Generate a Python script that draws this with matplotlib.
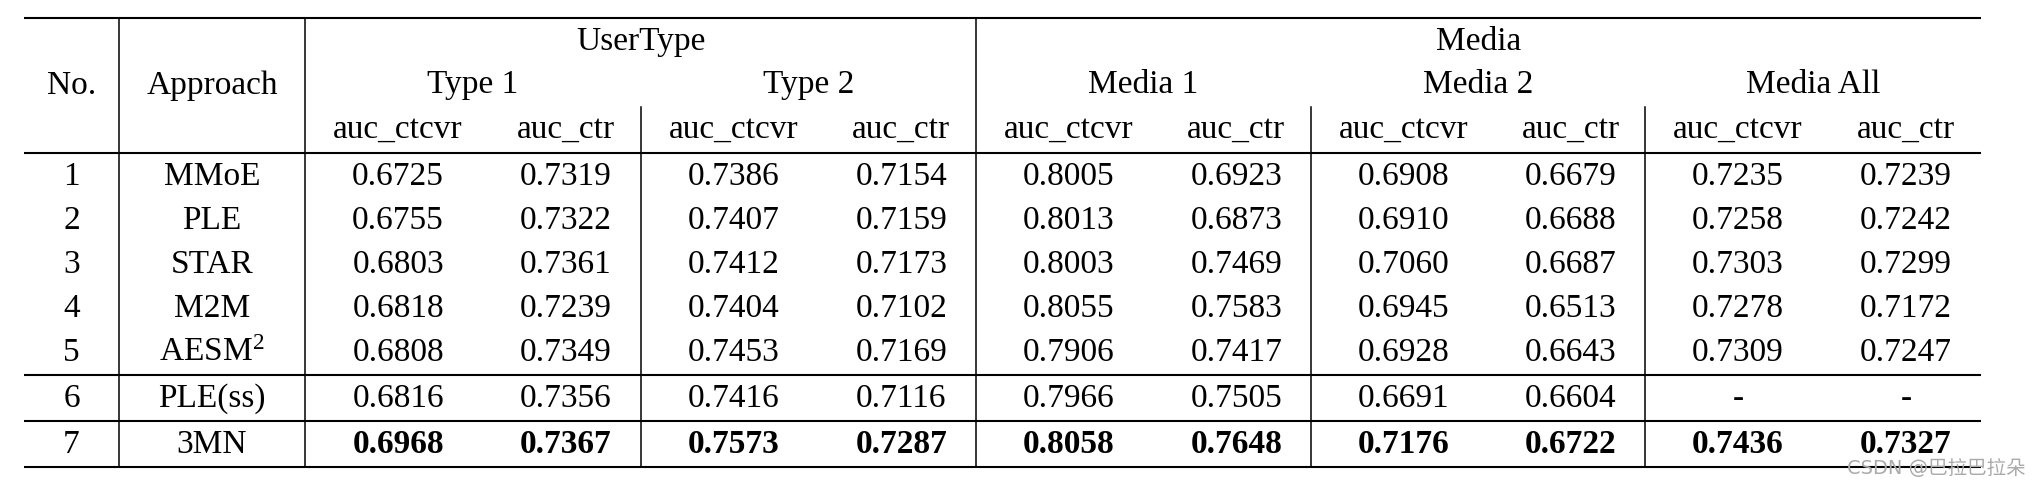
import numpy as np
import matplotlib
matplotlib.use('Agg')
import matplotlib.pyplot as plt

plt.rcParams['font.family'] = 'Liberation Serif'
plt.rcParams['mathtext.fontset'] = 'custom'
plt.rcParams['mathtext.rm'] = 'Liberation Serif'
plt.rcParams['mathtext.it'] = 'Liberation Serif:italic'
plt.rcParams['mathtext.bf'] = 'Liberation Serif:bold'

# table data
row_no = ['1', '2', '3', '4', '5', '6', '7']
approaches = ['MMoE', 'PLE', 'STAR', 'M2M', 'AESM$^2$', 'PLE(ss)', '3MN']
top_groups = ['UserType', 'Media']
groups = ['Type 1', 'Type 2', 'Media 1', 'Media 2', 'Media All']
metrics = ['auc_ctcvr', 'auc_ctr']

type1_ctcvr = [0.6725, 0.6755, 0.6803, 0.6818, 0.6808, 0.6816, 0.6968]
type1_ctr = [0.7319, 0.7322, 0.7361, 0.7239, 0.7349, 0.7356, 0.7367]
type2_ctcvr = [0.7386, 0.7407, 0.7412, 0.7404, 0.7453, 0.7416, 0.7573]
type2_ctr = [0.7154, 0.7159, 0.7173, 0.7102, 0.7169, 0.7116, 0.7287]
media1_ctcvr = [0.8005, 0.8013, 0.8003, 0.8055, 0.7906, 0.7966, 0.8058]
media1_ctr = [0.6923, 0.6873, 0.7469, 0.7583, 0.7417, 0.7505, 0.7648]
media2_ctcvr = [0.6908, 0.6910, 0.7060, 0.6945, 0.6928, 0.6691, 0.7176]
media2_ctr = [0.6679, 0.6688, 0.6687, 0.6513, 0.6643, 0.6604, 0.6722]
mediaall_ctcvr = [0.7235, 0.7258, 0.7303, 0.7278, 0.7309, np.nan, 0.7436]
mediaall_ctr = [0.7239, 0.7242, 0.7299, 0.7172, 0.7247, np.nan, 0.7327]

columns = [type1_ctcvr, type1_ctr, type2_ctcvr, type2_ctr,
           media1_ctcvr, media1_ctr, media2_ctcvr, media2_ctr,
           mediaall_ctcvr, mediaall_ctr]

W, H = 2034, 486
fig = plt.figure(figsize=(W / 100, H / 100), dpi=100)
ax = fig.add_axes([0, 0, 1, 1])
ax.set_xlim(0, W)
ax.set_ylim(H, 0)
ax.axis('off')

fs = 24
x_left, x_no, x_app = 24, 119, 305
g_edges = [305, 641, 976, 1311, 1645, 1981]
x_right = g_edges[-1]
y_top, y_head, y_sub = 18, 153, 107
row_base = [185, 229, 273, 317, 361, 407, 453]
sep_lines = [375, 421]
y_bottom = 467

# horizontal rules
for y in [y_top, y_head] + sep_lines + [y_bottom]:
    ax.plot([x_left, x_right], [y, y], color='black', lw=1.5, solid_capstyle='butt')

# vertical rules
for x in [x_no, x_app, g_edges[2]]:
    ax.plot([x, x], [y_top, y_bottom], color='black', lw=1.1)
for x in [g_edges[1], g_edges[3], g_edges[4]]:
    ax.plot([x, x], [y_sub, y_bottom], color='black', lw=1.1)

# header
ax.text((x_left + x_no) / 2, 94, 'No.', ha='center', va='baseline', fontsize=fs)
ax.text((x_no + x_app) / 2, 94, 'Approach', ha='center', va='baseline', fontsize=fs)
ax.text((g_edges[0] + g_edges[2]) / 2, 50, top_groups[0], ha='center', va='baseline', fontsize=fs)
ax.text((g_edges[2] + g_edges[5]) / 2, 50, top_groups[1], ha='center', va='baseline', fontsize=fs)

col_x = []
for i, name in enumerate(groups):
    a, b = g_edges[i], g_edges[i + 1]
    w1 = 0.554 * (b - a)
    c1 = a + w1 / 2
    c2 = a + w1 + (b - a - w1) / 2
    col_x += [c1, c2]
    ax.text((a + b) / 2, 93, name, ha='center', va='baseline', fontsize=fs)
    ax.text(c1, 138, metrics[0], ha='center', va='baseline', fontsize=fs)
    ax.text(c2, 138, metrics[1], ha='center', va='baseline', fontsize=fs)

# body
for r in range(len(row_no)):
    yb = row_base[r]
    ax.text((x_left + x_no) / 2, yb, row_no[r], ha='center', va='baseline', fontsize=fs)
    ax.text((x_no + x_app) / 2, yb, approaches[r], ha='center', va='baseline', fontsize=fs)
    bold = (r == len(row_no) - 1)
    for c, col in enumerate(columns):
        v = col[r]
        s = '-' if np.isnan(v) else '%.4f' % v
        ax.text(col_x[c], yb, s, ha='center', va='baseline', fontsize=fs,
                fontweight='bold' if bold else 'normal')

# watermark
ax.text(1847, 474, 'CSDN @巴拉巴拉朵', ha='left', va='baseline', fontsize=14,
        color='#aaaaaa', family=['DejaVu Sans', 'Noto Sans CJK SC'])

fig.savefig('out.png', dpi=100)
